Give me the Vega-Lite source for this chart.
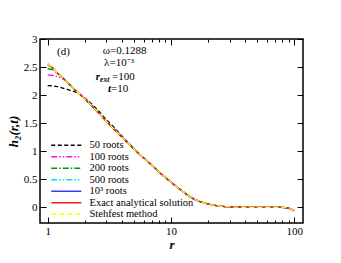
{
"$schema":"https://vega.github.io/schema/vega-lite/v6.json",
"width":263,"height":184,
"autosize":"none",
"padding":{"left":40,"top":39,"right":38,"bottom":40},
"config":{
 "view":{"stroke":"black","strokeWidth":1.5},
 "font":"Liberation Serif",
 "axis":{"grid":false,"domain":false,"tickColor":"black","tickWidth":1,"labelColor":"black","labelFont":"Liberation Serif","labelFontSize":11,"titleColor":"black","titleFont":"Liberation Serif"},
 "legend":{"orient":"none","legendX":21,"legendY":101,"symbolType":"M-5,0H5","symbolSize":36,"symbolStrokeWidth":1.5,"labelFont":"Liberation Serif","labelFontSize":10.5,"labelColor":"black","rowPadding":0.5,"labelOffset":18,"symbolOffset":0}
},
"datasets":{
"curves":[
{"series":"50 roots","r":1,"h":2.17},{"series":"50 roots","r":1.1,"h":2.165},{"series":"50 roots","r":1.2,"h":2.15},{"series":"50 roots","r":1.35,"h":2.12},{"series":"50 roots","r":1.5,"h":2.09},{"series":"50 roots","r":1.75,"h":2.04},{"series":"50 roots","r":2,"h":1.95},{"series":"50 roots","r":2.5,"h":1.75},{"series":"50 roots","r":3,"h":1.56},{"series":"50 roots","r":3.5,"h":1.41},{"series":"50 roots","r":4,"h":1.27},{"series":"50 roots","r":5,"h":1.05},{"series":"50 roots","r":6,"h":0.88},{"series":"50 roots","r":7,"h":0.75},{"series":"50 roots","r":8,"h":0.63},{"series":"50 roots","r":10,"h":0.45},{"series":"50 roots","r":12,"h":0.31},{"series":"50 roots","r":15,"h":0.16},{"series":"50 roots","r":20,"h":0.06},{"series":"50 roots","r":25,"h":0.022},{"series":"50 roots","r":30,"h":0.007},{"series":"50 roots","r":40,"h":0},{"series":"50 roots","r":50,"h":0},{"series":"50 roots","r":60,"h":0},{"series":"50 roots","r":70,"h":0},{"series":"50 roots","r":80,"h":-0.003},{"series":"50 roots","r":85,"h":-0.006},{"series":"50 roots","r":90,"h":-0.015},{"series":"50 roots","r":95,"h":-0.035},{"series":"50 roots","r":100,"h":-0.06},
{"series":"100 roots","r":1,"h":2.36},{"series":"100 roots","r":1.1,"h":2.35},{"series":"100 roots","r":1.2,"h":2.33},{"series":"100 roots","r":1.35,"h":2.28},{"series":"100 roots","r":1.5,"h":2.19},{"series":"100 roots","r":1.75,"h":2.05},{"series":"100 roots","r":2,"h":1.93},{"series":"100 roots","r":2.5,"h":1.71},{"series":"100 roots","r":3,"h":1.53},{"series":"100 roots","r":3.5,"h":1.38},{"series":"100 roots","r":4,"h":1.25},{"series":"100 roots","r":5,"h":1.04},{"series":"100 roots","r":6,"h":0.88},{"series":"100 roots","r":7,"h":0.75},{"series":"100 roots","r":8,"h":0.63},{"series":"100 roots","r":10,"h":0.45},{"series":"100 roots","r":12,"h":0.31},{"series":"100 roots","r":15,"h":0.16},{"series":"100 roots","r":20,"h":0.06},{"series":"100 roots","r":25,"h":0.022},{"series":"100 roots","r":30,"h":0.007},{"series":"100 roots","r":40,"h":0},{"series":"100 roots","r":50,"h":0},{"series":"100 roots","r":60,"h":0},{"series":"100 roots","r":70,"h":0},{"series":"100 roots","r":80,"h":-0.003},{"series":"100 roots","r":85,"h":-0.006},{"series":"100 roots","r":90,"h":-0.015},{"series":"100 roots","r":95,"h":-0.035},{"series":"100 roots","r":100,"h":-0.06},
{"series":"200 roots","r":1,"h":2.47},{"series":"200 roots","r":1.1,"h":2.45},{"series":"200 roots","r":1.2,"h":2.39},{"series":"200 roots","r":1.35,"h":2.29},{"series":"200 roots","r":1.5,"h":2.19},{"series":"200 roots","r":1.75,"h":2.05},{"series":"200 roots","r":2,"h":1.93},{"series":"200 roots","r":2.5,"h":1.72},{"series":"200 roots","r":3,"h":1.53},{"series":"200 roots","r":3.5,"h":1.38},{"series":"200 roots","r":4,"h":1.25},{"series":"200 roots","r":5,"h":1.04},{"series":"200 roots","r":6,"h":0.88},{"series":"200 roots","r":7,"h":0.75},{"series":"200 roots","r":8,"h":0.63},{"series":"200 roots","r":10,"h":0.45},{"series":"200 roots","r":12,"h":0.31},{"series":"200 roots","r":15,"h":0.16},{"series":"200 roots","r":20,"h":0.06},{"series":"200 roots","r":25,"h":0.022},{"series":"200 roots","r":30,"h":0.007},{"series":"200 roots","r":40,"h":0},{"series":"200 roots","r":50,"h":0},{"series":"200 roots","r":60,"h":0},{"series":"200 roots","r":70,"h":0},{"series":"200 roots","r":80,"h":-0.003},{"series":"200 roots","r":85,"h":-0.006},{"series":"200 roots","r":90,"h":-0.015},{"series":"200 roots","r":95,"h":-0.035},{"series":"200 roots","r":100,"h":-0.06},
{"series":"500 roots","r":1,"h":2.53},{"series":"500 roots","r":1.1,"h":2.48},{"series":"500 roots","r":1.2,"h":2.39},{"series":"500 roots","r":1.35,"h":2.29},{"series":"500 roots","r":1.5,"h":2.19},{"series":"500 roots","r":1.75,"h":2.05},{"series":"500 roots","r":2,"h":1.93},{"series":"500 roots","r":2.5,"h":1.72},{"series":"500 roots","r":3,"h":1.53},{"series":"500 roots","r":3.5,"h":1.38},{"series":"500 roots","r":4,"h":1.25},{"series":"500 roots","r":5,"h":1.04},{"series":"500 roots","r":6,"h":0.88},{"series":"500 roots","r":7,"h":0.75},{"series":"500 roots","r":8,"h":0.63},{"series":"500 roots","r":10,"h":0.45},{"series":"500 roots","r":12,"h":0.31},{"series":"500 roots","r":15,"h":0.16},{"series":"500 roots","r":20,"h":0.06},{"series":"500 roots","r":25,"h":0.022},{"series":"500 roots","r":30,"h":0.007},{"series":"500 roots","r":40,"h":0},{"series":"500 roots","r":50,"h":0},{"series":"500 roots","r":60,"h":0},{"series":"500 roots","r":70,"h":0},{"series":"500 roots","r":80,"h":-0.003},{"series":"500 roots","r":85,"h":-0.006},{"series":"500 roots","r":90,"h":-0.015},{"series":"500 roots","r":95,"h":-0.035},{"series":"500 roots","r":100,"h":-0.06},
{"series":"10³ roots","r":1,"h":2.555},{"series":"10³ roots","r":1.1,"h":2.48},{"series":"10³ roots","r":1.2,"h":2.39},{"series":"10³ roots","r":1.35,"h":2.29},{"series":"10³ roots","r":1.5,"h":2.19},{"series":"10³ roots","r":1.75,"h":2.05},{"series":"10³ roots","r":2,"h":1.93},{"series":"10³ roots","r":2.5,"h":1.72},{"series":"10³ roots","r":3,"h":1.53},{"series":"10³ roots","r":3.5,"h":1.38},{"series":"10³ roots","r":4,"h":1.25},{"series":"10³ roots","r":5,"h":1.04},{"series":"10³ roots","r":6,"h":0.88},{"series":"10³ roots","r":7,"h":0.75},{"series":"10³ roots","r":8,"h":0.63},{"series":"10³ roots","r":10,"h":0.45},{"series":"10³ roots","r":12,"h":0.31},{"series":"10³ roots","r":15,"h":0.16},{"series":"10³ roots","r":20,"h":0.06},{"series":"10³ roots","r":25,"h":0.022},{"series":"10³ roots","r":30,"h":0.007},{"series":"10³ roots","r":40,"h":0},{"series":"10³ roots","r":50,"h":0},{"series":"10³ roots","r":60,"h":0},{"series":"10³ roots","r":70,"h":0},{"series":"10³ roots","r":80,"h":-0.003},{"series":"10³ roots","r":85,"h":-0.006},{"series":"10³ roots","r":90,"h":-0.015},{"series":"10³ roots","r":95,"h":-0.035},{"series":"10³ roots","r":100,"h":-0.06},
{"series":"Exact analytical solution","r":1,"h":2.56},{"series":"Exact analytical solution","r":1.1,"h":2.48},{"series":"Exact analytical solution","r":1.2,"h":2.39},{"series":"Exact analytical solution","r":1.35,"h":2.29},{"series":"Exact analytical solution","r":1.5,"h":2.19},{"series":"Exact analytical solution","r":1.75,"h":2.05},{"series":"Exact analytical solution","r":2,"h":1.93},{"series":"Exact analytical solution","r":2.5,"h":1.72},{"series":"Exact analytical solution","r":3,"h":1.53},{"series":"Exact analytical solution","r":3.5,"h":1.38},{"series":"Exact analytical solution","r":4,"h":1.25},{"series":"Exact analytical solution","r":5,"h":1.04},{"series":"Exact analytical solution","r":6,"h":0.88},{"series":"Exact analytical solution","r":7,"h":0.75},{"series":"Exact analytical solution","r":8,"h":0.63},{"series":"Exact analytical solution","r":10,"h":0.45},{"series":"Exact analytical solution","r":12,"h":0.31},{"series":"Exact analytical solution","r":15,"h":0.16},{"series":"Exact analytical solution","r":20,"h":0.06},{"series":"Exact analytical solution","r":25,"h":0.022},{"series":"Exact analytical solution","r":30,"h":0.007},{"series":"Exact analytical solution","r":40,"h":0},{"series":"Exact analytical solution","r":50,"h":0},{"series":"Exact analytical solution","r":60,"h":0},{"series":"Exact analytical solution","r":70,"h":0},{"series":"Exact analytical solution","r":80,"h":-0.003},{"series":"Exact analytical solution","r":85,"h":-0.006},{"series":"Exact analytical solution","r":90,"h":-0.015},{"series":"Exact analytical solution","r":95,"h":-0.035},{"series":"Exact analytical solution","r":100,"h":-0.06},
{"series":"Stehfest method","r":1,"h":2.56},{"series":"Stehfest method","r":1.1,"h":2.48},{"series":"Stehfest method","r":1.2,"h":2.39},{"series":"Stehfest method","r":1.35,"h":2.29},{"series":"Stehfest method","r":1.5,"h":2.19},{"series":"Stehfest method","r":1.75,"h":2.05},{"series":"Stehfest method","r":2,"h":1.93},{"series":"Stehfest method","r":2.5,"h":1.72},{"series":"Stehfest method","r":3,"h":1.53},{"series":"Stehfest method","r":3.5,"h":1.38},{"series":"Stehfest method","r":4,"h":1.25},{"series":"Stehfest method","r":5,"h":1.04},{"series":"Stehfest method","r":6,"h":0.88},{"series":"Stehfest method","r":7,"h":0.75},{"series":"Stehfest method","r":8,"h":0.63},{"series":"Stehfest method","r":10,"h":0.45},{"series":"Stehfest method","r":12,"h":0.31},{"series":"Stehfest method","r":15,"h":0.16},{"series":"Stehfest method","r":20,"h":0.06},{"series":"Stehfest method","r":25,"h":0.022},{"series":"Stehfest method","r":30,"h":0.007},{"series":"Stehfest method","r":40,"h":0},{"series":"Stehfest method","r":50,"h":0},{"series":"Stehfest method","r":60,"h":0},{"series":"Stehfest method","r":70,"h":0},{"series":"Stehfest method","r":80,"h":-0.003},{"series":"Stehfest method","r":85,"h":-0.006},{"series":"Stehfest method","r":90,"h":-0.015},{"series":"Stehfest method","r":95,"h":-0.035},{"series":"Stehfest method","r":100,"h":-0.06}
],
"regular":[{"label":"(d)","r":1.19,"h":2.77},{"label":"ω=0.1288","r":2.8,"h":2.78},{"label":"λ=10⁻³","r":2.87,"h":2.58},{"label":"=100","r":3.33,"h":2.32},{"label":"=10","r":3.27,"h":2.1}],
"bold":[{"label":"r","r":2.66,"h":2.32},{"label":"t","r":3.27,"h":2.1}],
"sub":[{"label":"ext","r":2.66,"h":2.27}]
},
"layer":[
{"data":{"name":"curves"},
 "mark":{"type":"line","strokeWidth":1.3,"interpolate":"monotone"},
 "encoding":{
  "x":{"field":"r","type":"quantitative","scale":{"type":"log","domain":[0.866,118],"nice":false},
       "axis":{"orient":"bottom","values":[1,10,100],"tickSize":-6,"labelPadding":8,"title":"r","titleFontStyle":"italic","titleFontWeight":"bold","titleFontSize":13,"titlePadding":2}},
  "y":{"field":"h","type":"quantitative","scale":{"domain":[-0.28,3],"nice":false,"zero":false},
       "axis":{"orient":"left","values":[0,0.5,1,1.5,2,2.5,3],"format":"~g","tickSize":-6,"labelPadding":9,"title":"h₂(r,t)","titleFontStyle":"italic","titleFontWeight":"bold","titleFontSize":13,"titlePadding":3}},
  "color":{"field":"series","type":"nominal",
     "scale":{"domain":["50 roots","100 roots","200 roots","500 roots","10³ roots","Exact analytical solution","Stehfest method"],
              "range":["#000000","#ff00ff","#009a00","#00e0e0","#3a3aff","#ff1a1a","#ffff00"]},
     "legend":{"title":null}},
  "strokeDash":{"field":"series","type":"nominal",
     "scale":{"domain":["50 roots","100 roots","200 roots","500 roots","10³ roots","Exact analytical solution","Stehfest method"],
              "range":[[4,2.5],[6,2,1.5,2,1.5,2],[6,2,1.5,2],[6,2,1.5,2,1.5,2],[1,0],[1,0],[5,3]]},
     "legend":{"title":null}}
 }},
{"data":{"name":"curves"},
 "mark":{"type":"point","opacity":0},
 "encoding":{
  "x":{"field":"r","type":"quantitative","axis":{"orient":"bottom","values":[2,3,4,5,6,7,8,9,20,30,40,50,60,70,80,90],"tickSize":-3,"labels":false,"title":null}},
  "y":{"field":"h","type":"quantitative","axis":{"orient":"right","values":[0,0.5,1,1.5,2,2.5,3],"tickSize":-6,"labels":false,"title":null}}
 }},
{"data":{"name":"curves"},
 "mark":{"type":"point","opacity":0},
 "encoding":{
  "x":{"field":"r","type":"quantitative","axis":{"orient":"top","values":[1,10,100],"tickSize":-6,"labels":false,"title":null}},
  "y":{"field":"h","type":"quantitative","axis":null}
 }},
{"data":{"name":"curves"},
 "mark":{"type":"point","opacity":0},
 "encoding":{
  "x":{"field":"r","type":"quantitative","axis":{"orient":"top","values":[2,3,4,5,6,7,8,9,20,30,40,50,60,70,80,90],"tickSize":-3,"labels":false,"title":null}},
  "y":{"field":"h","type":"quantitative","axis":null}
 }},
{"data":{"name":"regular"},
 "mark":{"type":"text","align":"left","baseline":"middle","fontSize":11,"font":"Liberation Serif","color":"black"},
 "encoding":{"x":{"field":"r","type":"quantitative","axis":null},"y":{"field":"h","type":"quantitative","axis":null},"text":{"field":"label"}}},
{"data":{"name":"bold"},
 "mark":{"type":"text","align":"right","baseline":"middle","fontSize":11,"font":"Liberation Serif","fontStyle":"italic","fontWeight":"bold","color":"black"},
 "encoding":{"x":{"field":"r","type":"quantitative","axis":null},"y":{"field":"h","type":"quantitative","axis":null},"text":{"field":"label"}}},
{"data":{"name":"sub"},
 "mark":{"type":"text","align":"left","baseline":"middle","fontSize":7.5,"font":"Liberation Serif","fontStyle":"italic","fontWeight":"bold","color":"black"},
 "encoding":{"x":{"field":"r","type":"quantitative","axis":null},"y":{"field":"h","type":"quantitative","axis":null},"text":{"field":"label"}}}
],
"resolve":{"axis":{"x":"independent","y":"independent"}}
}
